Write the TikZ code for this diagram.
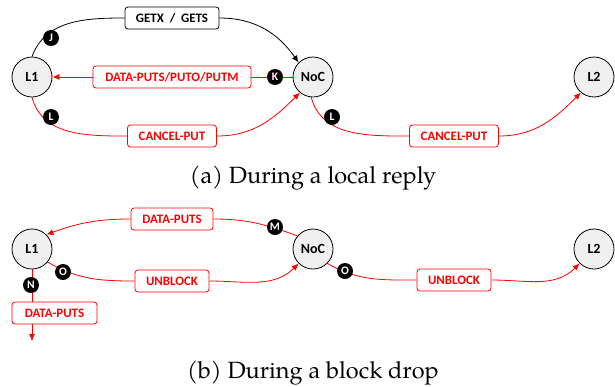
\documentclass[tikz,border=0pt]{standalone}
\usepackage{fontspec}
\setmainfont{TeX Gyre Pagella}
\newfontfamily\lblfont{Carlito}
\usetikzlibrary{arrows.meta}
\pgfdeclarelayer{bg}
\pgfsetlayers{bg,main}
\definecolor{nodegray}{RGB}{240,240,240}
\tikzset{
  cache/.style={circle, draw, line width=0.8pt, fill=nodegray, minimum size=40pt, inner sep=0pt, font=\lblfont\bfseries\fontsize{14}{16}\selectfont},
  msgbox/.style={draw=red, rounded corners=3pt, fill=white, line width=0.8pt, minimum height=22pt, inner sep=0pt, text=red, font=\lblfont\bfseries\fontsize{12.9}{15}\selectfont},
  blkbox/.style={msgbox, draw=black, text=black},
  marker/.style={circle, fill=black, minimum size=16pt, inner sep=0pt, text=white, font=\lblfont\bfseries\fontsize{11.5}{13}\selectfont},
  redline/.style={draw=red, line width=0.8pt},
  blkline/.style={draw=black, line width=0.8pt},
  tip/.style={-{Latex[length=7pt,width=6pt]}},
  caption/.style={anchor=base, font=\fontsize{23.5}{26}\selectfont}
}
\begin{document}
\begin{tikzpicture}[x=1pt,y=-1pt]
\useasboundingbox (0,0) rectangle (615,386);
% ---------- (a) ----------
\node[cache] (L1a) at (32,77) {L1};
\node[cache] (NoCa) at (313,77) {NoC};
\node[cache] (L2a) at (594,77) {L2};
\node[blkbox, minimum width=94pt] (getx) at (172,18) {GETX\ \ /\ \ GETS};
\node[msgbox, minimum width=158pt] (dpp) at (172,77) {DATA-PUTS/PUTO/PUTM};
\node[msgbox, minimum width=89pt] (cp1) at (172,136) {CANCEL-PUT};
\node[msgbox, minimum width=89pt] (cp2) at (454,136) {CANCEL-PUT};
\node[marker] (mJ) at (51,38) {J};
\node[marker] (mK) at (275,77) {K};
\node[marker] (mL1) at (51,117) {L};
\node[marker] (mL2) at (332,117) {L};
\node[caption] (capa) at (313,183) {(a) During a local reply};
\begin{pgfonlayer}{bg}
\draw[blkline] (L1a.north) to[out=70,in=180] (getx.west);
\draw[blkline,tip] (getx.east) to[out=0,in=125] (NoCa.135);
\draw[redline,tip] (NoCa.west) -- (L1a.east);
\draw[redline] (L1a.south) to[out=-75,in=180] (cp1.west);
\draw[redline,tip] (cp1.east) to[out=0,in=225] (NoCa.230);
\draw[redline] (NoCa.265) to[out=-75,in=180] (cp2.west);
\draw[redline,tip] (cp2.east) to[out=0,in=225] (L2a.230);
\end{pgfonlayer}

% ---------- (b) ----------
\node[cache] (L1b) at (32,249) {L1};
\node[cache] (NoCb) at (313,249) {NoC};
\node[cache] (L2b) at (594,249) {L2};
\coordinate (endb) at (32,341);
\node[msgbox, minimum width=82pt] (dpb) at (172,219) {DATA-PUTS};
\node[msgbox, minimum width=74pt] (ub1) at (172,281) {UNBLOCK};
\node[msgbox, minimum width=74pt] (ub2) at (454,280) {UNBLOCK};
\node[msgbox, minimum width=85pt] (dpd) at (54.5,313) {DATA-PUTS};
\node[marker] (mM) at (275,227) {M};
\node[marker] (mO1) at (63,272) {O};
\node[marker] (mO2) at (345,271) {O};
\node[marker] (mN) at (31,285) {N};
\node[caption] (capb) at (313,378) {(b) During a block drop};
\begin{pgfonlayer}{bg}
\draw[redline] (NoCb.140) to[out=160,in=0] (dpb.east);
\draw[redline,tip] (dpb.west) to[out=180,in=20] (L1b.45);
\draw[redline] (L1b.-40) to[out=-30,in=180] (ub1.west);
\draw[redline,tip] (ub1.east) to[out=0,in=225] (NoCb.225);
\draw[redline] (NoCb.-45) to[out=-30,in=180] (ub2.west);
\draw[redline,tip] (ub2.east) to[out=0,in=225] (L2b.225);
\draw[redline,tip] (L1b.south) -- (endb);
\end{pgfonlayer}
\end{tikzpicture}
\end{document}
